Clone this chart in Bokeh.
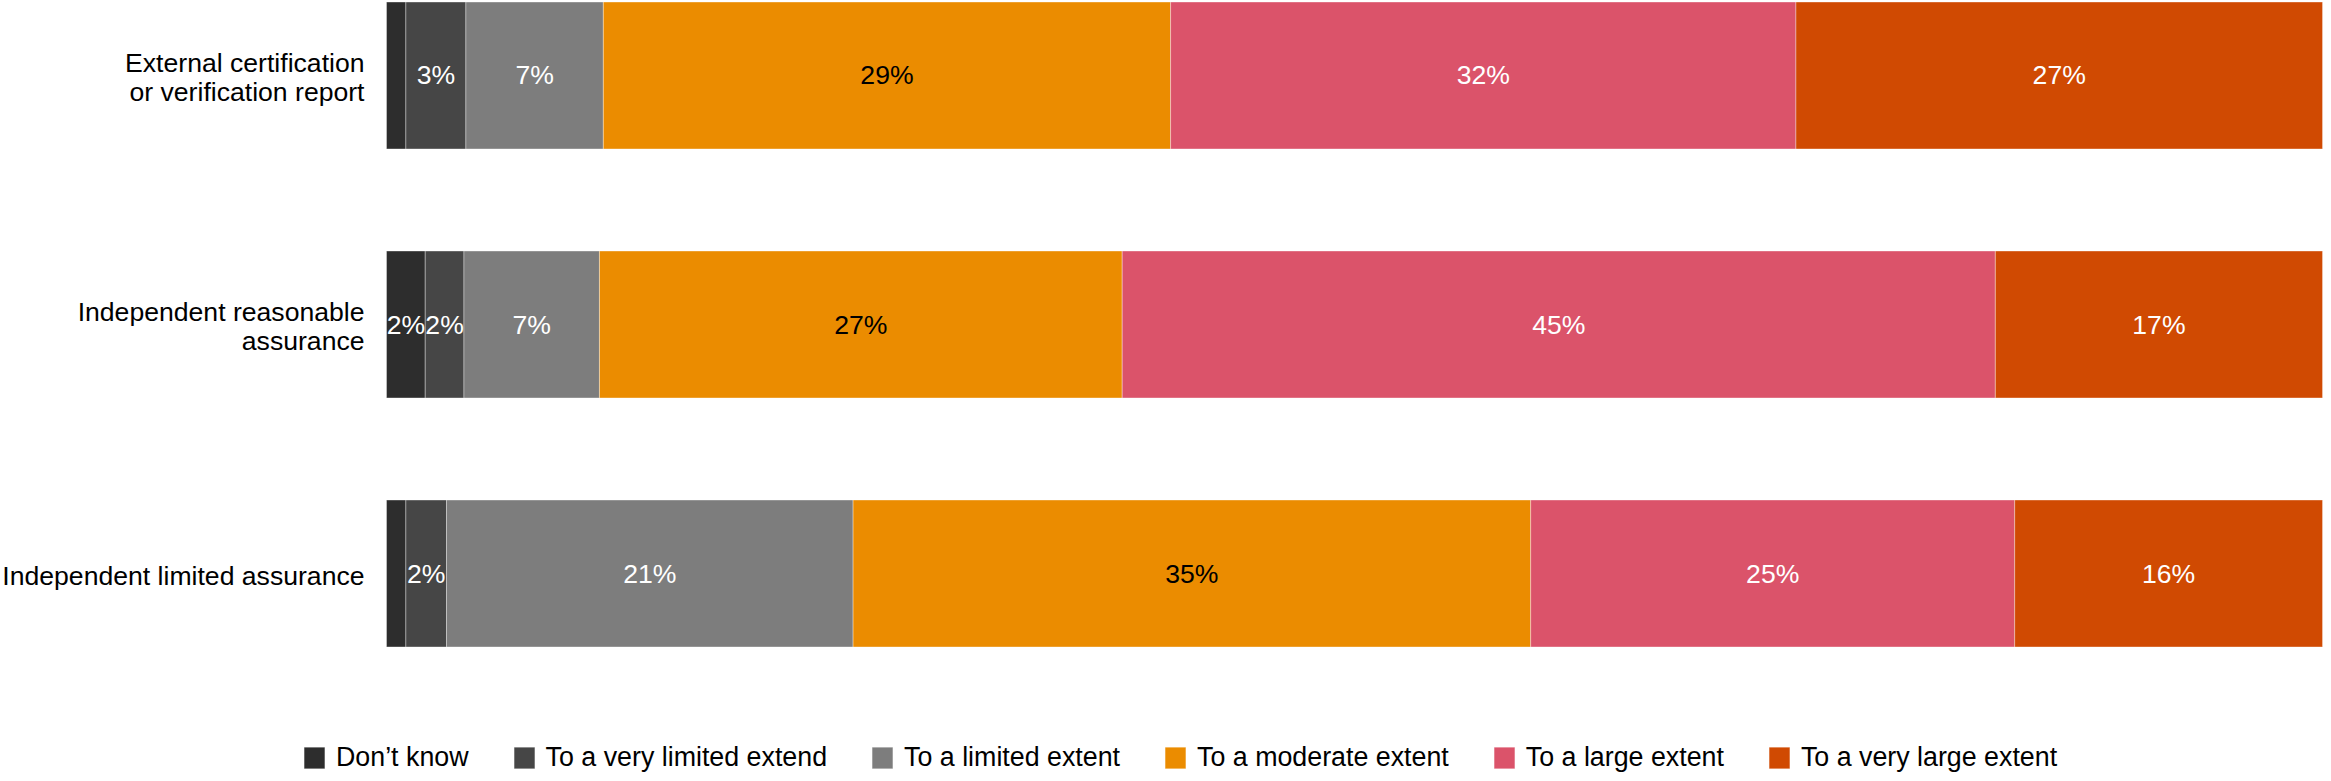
from bokeh.plotting import figure
from bokeh.models import Range1d, Legend, LegendItem, ColumnDataSource
from bokeh.core.properties import value
from bokeh.embed import file_html
from bokeh.resources import INLINE

categories = [
    "External certification\nor verification report",
    "Independent reasonable\nassurance",
    "Independent limited assurance",
]
series = [
    "Don\u2019t know",
    "To a very limited extend",
    "To a limited extent",
    "To a moderate extent",
    "To a large extent",
    "To a very large extent",
]
dont_know = [1.0, 2.0, 1.0]
very_limited = [3.1, 2.0, 2.1]
limited = [7.1, 7.0, 21.0]
moderate = [29.3, 27.0, 35.0]
large = [32.3, 45.1, 25.0]
very_large = [27.2, 16.9, 15.9]

colors = ["#2d2d2d", "#464646", "#7d7d7d", "#eb8c00", "#db536a", "#d04a02"]
label_colors = ["white", "white", "white", "black", "white", "white"]

FONT = "Liberation Sans"
FS = "26.6px"
LFS = "26.8px"

data = [dont_know, very_limited, limited, moderate, large, very_large]
ypos = [2, 1, 0]

p = figure(width=2323, height=773, output_backend="svg", toolbar_location=None,
           x_range=Range1d(-19.938, 100.05), y_range=Range1d(-0.8032, 2.3012),
           x_axis_location=None, y_axis_location=None,
           min_border_left=0, min_border_right=0, min_border_top=0, min_border_bottom=0)
p.outline_line_color = None
p.xgrid.visible = False
p.ygrid.visible = False
p.background_fill_color = "white"
p.border_fill_color = "white"

left = [0.0, 0.0, 0.0]
items = []
for s, vals, col, lc in zip(series, data, colors, label_colors):
    right = [l + v for l, v in zip(left, vals)]
    src = ColumnDataSource(dict(
        y=ypos, left=left, right=right,
        xc=[(l + r) / 2 for l, r in zip(left, right)],
        lab=[f"{round(v)}%" if v >= 1.5 else "" for v in vals],
    ))
    r = p.hbar(y="y", left="left", right="right", height=0.59, source=src,
               fill_color=col, line_color="white", line_alpha=0.35, line_width=1)
    p.text(x="xc", y="y", text="lab", source=src, text_align="center",
           text_baseline="middle", text_color=lc, text_font=value(FONT),
           text_font_size=FS)
    items.append(LegendItem(label=s, renderers=[r]))
    left = right

cat_src = ColumnDataSource(dict(x=[0, 0, 0], y=ypos, t=categories))
p.text(x="x", y="y", text="t", source=cat_src, x_offset=-22, y_offset=2,
       text_align="right", text_baseline="middle", text_color="black",
       text_font=value(FONT), text_font_size=FS, text_line_height=0.98)

legend = Legend(items=items, orientation="horizontal", location=(301, 0),
                padding=0, margin=0, spacing=42, label_standoff=9,
                glyph_width=26, glyph_height=27, label_height=27,
                label_text_font=FONT, label_text_font_size=LFS,
                label_text_color="black", border_line_color=None,
                background_fill_alpha=0)
p.add_layout(legend)

open("out.html", "w").write(file_html(p, INLINE))
